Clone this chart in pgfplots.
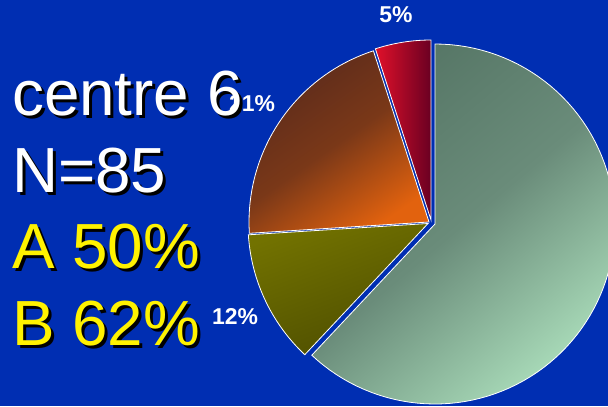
\documentclass[border=0pt]{standalone}
\usepackage{pgfplots}
\pgfplotsset{compat=1.18}
\usepackage{fontspec}
\setmainfont{Liberation Sans}
\definecolor{bg}{HTML}{002EB2}
\definecolor{greenD}{HTML}{557565}
\definecolor{greenM}{HTML}{6A8C7A}
\definecolor{greenL}{HTML}{A8DAB8}
\definecolor{oliveT}{HTML}{727200}
\definecolor{oliveB}{HTML}{4E4E00}
\definecolor{brownD}{HTML}{5A2A1C}
\definecolor{brownM}{HTML}{7A3818}
\definecolor{orangeL}{HTML}{E2620E}
\definecolor{redL}{HTML}{E0102A}
\definecolor{redD}{HTML}{6A0022}
% pie shares (percent), clockwise from 12 o'clock
\def\pBig{62}\def\pOlive{12}\def\pOrange{21}\def\pRed{5}
\pgfmathsetmacro{\aA}{90}
\pgfmathsetmacro{\aB}{90-\pBig*3.6}
\pgfmathsetmacro{\aC}{\aB-\pOlive*3.6}
\pgfmathsetmacro{\aD}{\aC-\pOrange*3.6}
\pgfmathsetmacro{\aE}{\aD-\pRed*3.6}
\begin{document}
\begin{tikzpicture}[x=1bp,y=1bp]
\fill[bg] (0,0) rectangle (608,406);
\useasboundingbox (0,0) rectangle (608,406);
\begin{axis}[x=1bp,y=1bp,xmin=0,xmax=608,ymin=0,ymax=406,
  hide axis, anchor=origin, at={(0,0)}, clip=true]
% big slice 62%
\addplot[draw=white, line width=0.8bp, top color=greenD, bottom color=greenL, middle color=greenM, shading angle=40,
  domain=\aB:\aA, samples=90, variable=\t]
  ({435+180*cos(\t)},{182+180*sin(\t)}) -- (axis cs:435,182) -- cycle;
% olive 12%
\addplot[draw=white, line width=0.8bp, top color=oliveT, bottom color=oliveB, shading angle=20,
  domain=\aC:\aB, samples=30, variable=\t]
  ({428+180*cos(\t)},{182.5+180*sin(\t)}) -- (axis cs:428,182.5) -- cycle;
% orange 21%
\addplot[draw=white, line width=0.8bp, top color=brownD, bottom color=orangeL, middle color=brownM, shading angle=35,
  domain=\aD:\aC, samples=40, variable=\t]
  ({429+180*cos(\t)},{184+180*sin(\t)}) -- (axis cs:429,184) -- cycle;
% red 5%
\addplot[draw=white, line width=0.8bp, left color=redL, right color=redD,
  domain=\aE:\aD, samples=15, variable=\t]
  ({431+180*cos(\t)},{186+180*sin(\t)}) -- (axis cs:431,186) -- cycle;
\end{axis}
% slice labels
\begin{scope}[every node/.style={text=white, font=\fontsize{23}{23}\bfseries\selectfont, inner sep=0}]
\node at (396,391) {5\%};
\node at (252,302) {21\%};
\node at (235,89) {12\%};
\end{scope}
% big text with shadow
\begin{scope}[every node/.style={anchor=base west, inner sep=0, font=\fontsize{64}{64}\selectfont}]
\node[text=black] at (15,288) {centre 6};
\node[text=white] at (12,291) {centre 6};
\node[text=black] at (15,211) {N=85};
\node[text=white] at (12,214) {N=85};
\node[text=black] at (15,135) {A 50\%};
\node[text=yellow] at (12,138) {A 50\%};
\node[text=black] at (15,58) {B 62\%};
\node[text=yellow] at (12,61) {B 62\%};
\end{scope}
\end{tikzpicture}
\end{document}
